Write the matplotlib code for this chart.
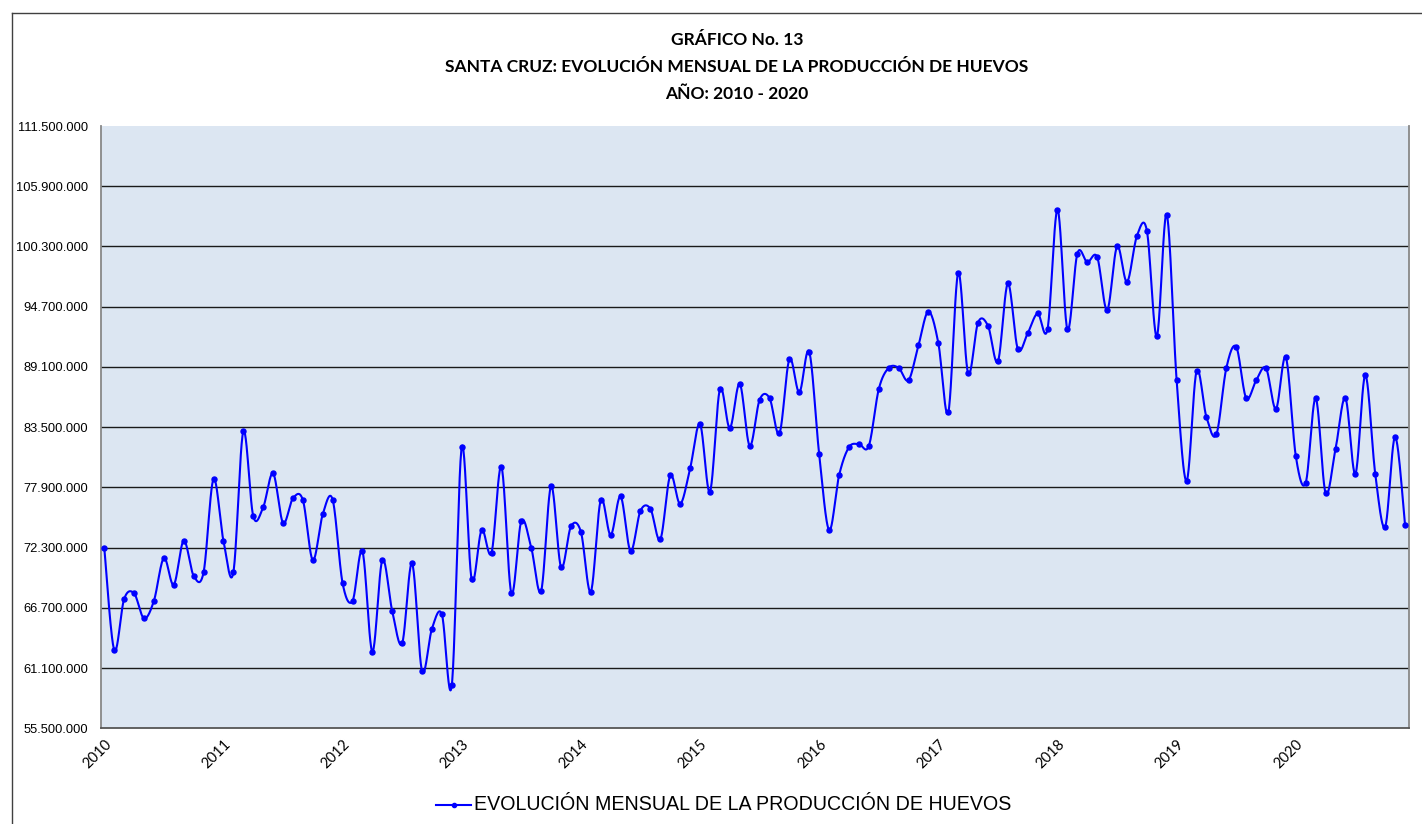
import numpy as np
import matplotlib
matplotlib.use("Agg")
import matplotlib.pyplot as plt
from matplotlib.lines import Line2D

# ---------------- data (millions of eggs, monthly) ----------------
years = [str(y) for y in range(2010, 2021)]
v2010 = [72.28, 62.78, 67.52, 68.05, 65.72, 67.36, 71.33, 68.85, 72.94, 69.68, 70.00, 78.67]
v2011 = [72.94, 70.00, 83.10, 75.23, 76.04, 79.20, 74.61, 76.88, 76.72, 71.14, 75.39, 76.75]
v2012 = [69.00, 67.33, 71.95, 62.62, 71.14, 66.40, 63.40, 70.83, 60.83, 64.76, 66.09, 59.52]
v2013 = [81.64, 69.35, 73.93, 71.82, 79.81, 68.05, 74.77, 72.29, 68.29, 78.02, 70.49, 74.27]
v2014 = [73.77, 68.20, 76.72, 73.46, 77.06, 71.98, 75.72, 75.91, 73.06, 79.01, 76.37, 79.66]
v2015 = [83.78, 77.49, 87.03, 83.41, 87.53, 81.76, 86.04, 86.20, 82.92, 89.82, 86.73, 90.50]
v2016 = [80.96, 73.93, 79.01, 81.64, 81.92, 81.76, 87.03, 89.01, 89.01, 87.87, 91.12, 94.25]
v2017 = [91.31, 84.87, 97.84, 88.49, 93.23, 92.92, 89.61, 96.86, 90.78, 92.24, 94.07, 92.64]
v2018 = [103.73, 92.58, 99.64, 98.84, 99.30, 94.38, 100.30, 97.01, 101.28, 101.78, 91.96, 103.27]
v2019 = [87.84, 78.51, 88.68, 84.43, 82.82, 88.98, 90.96, 86.20, 87.84, 88.98, 85.20, 89.98]
v2020 = [80.81, 78.33, 86.20, 77.37, 81.46, 86.20, 79.16, 88.33, 79.16, 74.24, 82.60, 74.42]

y_ticks = [55.5, 61.1, 66.7, 72.3, 77.9, 83.5, 89.1, 94.7, 100.3, 105.9, 111.5]

series_name = "EVOLUCIÓN MENSUAL DE LA PRODUCCIÓN DE HUEVOS"
title_lines = ["GRÁFICO No. 13",
               "SANTA CRUZ: EVOLUCIÓN MENSUAL DE LA PRODUCCIÓN DE HUEVOS",
               "AÑO: 2010 - 2020"]

values = np.array(v2010 + v2011 + v2012 + v2013 + v2014 + v2015 + v2016 +
                  v2017 + v2018 + v2019 + v2020) * 1e6
x = np.arange(len(values))


def smooth_curve(xv, yv, n=24):
    """Excel-style smoothed line (Catmull-Rom Bezier) through the data points."""
    P = np.column_stack([xv, yv]).astype(float)
    out = []
    t = np.linspace(0, 1, n, endpoint=False)[:, None]
    for i in range(len(P) - 1):
        p0 = P[i - 1] if i > 0 else P[i]
        p1, p2 = P[i], P[i + 1]
        p3 = P[i + 2] if i + 2 < len(P) else P[i + 1]
        c1 = p1 + (p2 - p0) / 6.0
        c2 = p2 - (p3 - p1) / 6.0
        b = ((1 - t) ** 3) * p1 + 3 * ((1 - t) ** 2) * t * c1 + 3 * (1 - t) * t ** 2 * c2 + t ** 3 * p2
        out.append(b)
    out.append(P[-1:])
    out = np.vstack(out)
    return out[:, 0], out[:, 1]


W, H = 1422, 824
fig = plt.figure(figsize=(W / 100, H / 100), dpi=100)
fig.patch.set_facecolor("white")

# outer chart border (top and left visible)
fig.add_artist(Line2D([12 / W, 1.0], [1 - 13 / H, 1 - 13 / H], transform=fig.transFigure,
                      color="#404040", lw=1.0))
fig.add_artist(Line2D([12 / W, 12 / W], [0, 1 - 13 / H], transform=fig.transFigure,
                      color="#404040", lw=1.0))

left, right, top, bottom = 101.3 / W, 1409 / W, 1 - 126 / H, 1 - 728.3 / H
ax = fig.add_axes([left, bottom, right - left, top - bottom])
ax.set_facecolor("#dce6f2")

for yt in y_ticks[1:-1]:
    ax.axhline(yt * 1e6, color="#1a1a1a", lw=1.0, zorder=1)

sx, sy = smooth_curve(x, values)
ax.plot(sx, sy, color="#0000ff", lw=1.5, zorder=3)
ax.plot(x, values, linestyle="none", marker="o", markersize=3.6, color="#0000ff", zorder=4)

ax.set_xlim(-0.3, 131.4)
ax.set_ylim(y_ticks[0] * 1e6, y_ticks[-1] * 1e6)

ax.set_yticks([v * 1e6 for v in y_ticks])
ax.set_yticklabels(["{:,.0f}".format(v * 1e6).replace(",", ".") for v in y_ticks],
                   fontsize=9.3, family="Liberation Sans")
ax.set_xticks(x[::12])
ax.set_xticklabels(years, rotation=45, ha="right", va="top", rotation_mode="anchor",
                   fontsize=10.5, family="Lato")
ax.tick_params(axis="y", length=0, pad=9.3)
ax.tick_params(axis="x", length=0, pad=6.5)

for s in ["left", "bottom", "right"]:
    ax.spines[s].set_color("#888888")
    ax.spines[s].set_linewidth(1.3)
ax.spines["bottom"].set_color("#555555")
ax.spines["top"].set_visible(False)

# title
tx = 737 / W
for i, (line, yy) in enumerate(zip(title_lines, [40, 67, 94])):
    fig.text(tx, 1 - yy / H, line, ha="center", va="center", fontsize=12.5,
             fontweight="bold", family="Lato")

# legend
leg_y = 1 - 805 / H
fig.add_artist(Line2D([436 / W, 471 / W], [leg_y, leg_y], transform=fig.transFigure,
                      color="#0000ff", lw=1.5))
fig.add_artist(Line2D([453.5 / W], [leg_y], transform=fig.transFigure, color="#0000ff",
                      marker="o", markersize=3))
fig.text(474 / W, leg_y, series_name, ha="left", va="center", fontsize=14.1,
         family="Liberation Sans")

fig.savefig("out.png", dpi=100)
